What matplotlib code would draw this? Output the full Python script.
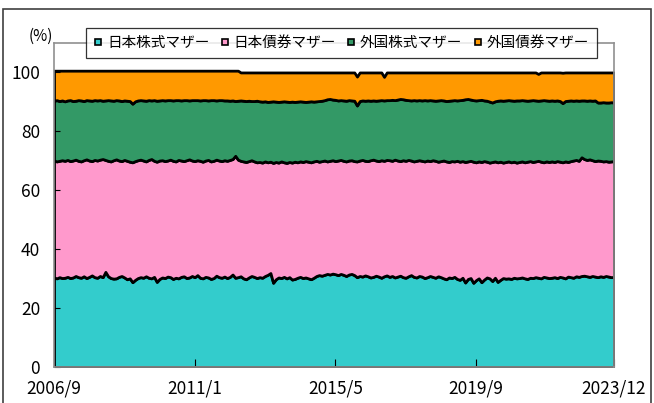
import matplotlib
matplotlib.use("Agg")
import matplotlib.pyplot as plt
from matplotlib.lines import Line2D
from matplotlib.patches import Rectangle
import numpy as np
import pandas as pd

plt.rcParams['font.family'] = ['Noto Sans CJK JP', 'DejaVu Sans']

# monthly shares (%), 2006/9 - 2023/12
months = pd.date_range('2006-09-01', '2023-12-01', freq='MS')

jp_stock = [
    30.4, 30.1, 30.5, 30.2,
    30.3, 30.6, 30.2, 30.4, 30.9, 30.5, 30.3, 30.8, 30.2, 30.6, 31.1, 30.5,
    30.3, 30.9, 30.5, 32.3, 30.8, 30.2, 30.0, 30.1, 30.6, 30.9, 30.4, 29.8,
    30.1, 28.8, 29.6, 30.2, 30.5, 30.3, 30.8, 30.3, 30.1, 30.6, 28.9, 29.9,
    30.4, 30.2, 30.7, 30.5, 29.9, 30.3, 30.1, 30.6, 30.8, 30.2, 30.4, 30.9,
    30.5, 31.2, 30.3, 30.1, 30.6, 30.4, 29.9, 30.2, 31.0, 30.5, 30.3, 30.7,
    30.2, 30.6, 31.4, 30.3, 30.5, 30.8, 30.1, 29.8, 30.4, 30.9, 30.6, 30.2,
    30.5, 30.3, 30.9, 31.3, 31.9, 28.6, 29.8, 30.4, 30.2, 30.6, 30.1, 30.5,
    29.7, 29.9, 30.3, 30.6, 30.2, 30.4, 30.1, 29.8, 30.3, 30.9, 31.2, 31.0,
    31.3, 31.6, 31.4, 31.7, 31.5, 31.2, 31.6, 31.3, 30.9, 31.4, 31.6, 31.2,
    30.5, 30.9, 30.7, 31.1, 30.8, 30.4, 30.6, 31.0, 30.7, 30.3, 30.8, 31.1,
    30.6, 30.9, 30.4, 30.7, 31.0, 30.5, 30.3, 30.8, 31.2, 30.6, 30.4, 30.9,
    30.7, 30.2, 30.5, 30.9, 30.6, 30.3, 30.8, 30.5, 30.1, 29.8, 30.4, 30.2,
    30.6, 29.9, 29.6, 30.3, 28.7, 29.9, 30.2, 28.6, 29.5, 30.1, 28.8, 29.7,
    30.4, 30.1, 29.2, 30.3, 28.9, 29.6, 30.2, 30.0, 30.1, 29.9, 30.3, 30.1,
    30.2, 30.4, 30.1, 29.9, 30.3, 30.2, 30.5, 30.3, 30.1, 30.6, 30.4, 30.2,
    30.3, 30.5, 30.2, 30.6, 30.4, 30.1, 30.7, 30.5, 30.3, 30.8, 30.6, 30.9,
    31.0, 30.8, 30.6, 30.9, 30.7, 30.5, 30.8, 30.6, 30.9, 30.7, 30.5, 30.6,
]

jp_bond = [
    39.7, 39.7, 39.5, 40.0,
    39.7, 39.7, 39.7, 39.7, 39.5, 39.5, 39.5, 39.4, 40.3, 39.5, 38.8, 39.8,
    39.8, 39.5, 40.1, 38.0, 39.2, 39.6, 40.2, 40.4, 39.5, 39.0, 39.9, 40.2,
    39.6, 40.7, 40.3, 40.0, 39.9, 39.8, 39.0, 40.0, 40.5, 39.4, 40.8, 40.2,
    39.8, 39.7, 39.4, 39.9, 40.1, 39.5, 40.2, 39.5, 39.1, 40.0, 40.1, 39.2,
    39.4, 39.0, 39.7, 39.6, 39.5, 39.9, 39.9, 39.8, 39.4, 39.6, 39.6, 39.5,
    39.8, 39.7, 39.2, 41.4, 39.9, 39.2, 39.7, 39.8, 39.5, 39.3, 39.2, 39.3,
    39.1, 39.1, 38.9, 38.2, 37.8, 40.7, 39.8, 39.0, 39.6, 38.9, 39.2, 39.1,
    39.7, 39.8, 39.2, 39.2, 39.4, 39.5, 39.6, 39.7, 39.5, 39.1, 38.5, 38.9,
    38.8, 38.2, 38.6, 38.5, 38.4, 38.9, 38.7, 38.7, 38.9, 38.7, 38.6, 38.7,
    39.3, 39.2, 39.6, 38.9, 39.1, 39.8, 39.8, 39.1, 39.2, 39.9, 39.2, 39.2,
    39.6, 39.1, 40.0, 39.4, 38.9, 39.7, 39.7, 39.5, 38.9, 39.2, 39.6, 39.3,
    39.3, 39.6, 39.6, 39.0, 39.6, 39.7, 38.9, 39.4, 40.0, 40.0, 39.2, 39.7,
    39.2, 40.1, 40.1, 39.6, 40.9, 39.9, 39.8, 41.1, 40.0, 39.7, 40.8, 40.2,
    39.3, 39.3, 40.4, 39.5, 40.6, 40.1, 39.2, 39.6, 39.7, 39.6, 39.4, 39.3,
    39.4, 39.4, 39.4, 39.8, 39.6, 39.4, 39.3, 39.7, 39.6, 38.9, 39.4, 39.4,
    39.5, 39.1, 39.7, 39.1, 39.1, 39.7, 38.9, 39.4, 39.8, 39.5, 39.4, 40.3,
    39.6, 39.5, 39.9, 39.3, 39.2, 39.6, 39.2, 39.2, 39.0, 39.0, 39.3, 39.3,
]

fg_stock = [
    20.3, 20.8, 20.3, 20.3,
    20.2, 20.2, 20.7, 20.2, 20.0, 20.6, 20.7, 20.1, 20.1, 20.4, 20.5, 20.3,
    20.4, 20.2, 19.8, 20.2, 20.6, 20.7, 20.2, 20.1, 20.4, 20.4, 20.2, 20.4,
    20.6, 19.9, 20.3, 20.3, 20.2, 20.4, 20.6, 20.3, 19.9, 20.6, 20.7, 20.4,
    20.4, 20.6, 20.5, 20.2, 20.5, 20.8, 20.3, 20.4, 20.7, 20.4, 20.0, 20.5,
    20.7, 20.4, 20.5, 20.9, 20.5, 20.2, 20.8, 20.6, 20.1, 20.5, 20.7, 20.3,
    20.5, 20.1, 19.9, 18.6, 20.0, 20.5, 20.6, 20.7, 20.5, 20.1, 20.5, 20.9,
    20.6, 20.7, 20.4, 20.5, 20.4, 20.9, 20.5, 20.6, 20.3, 20.7, 20.8, 20.4,
    20.7, 20.3, 20.6, 20.4, 20.5, 20.1, 20.4, 20.7, 20.3, 20.2, 20.6, 20.5,
    20.5, 21.1, 21.0, 20.6, 20.8, 20.4, 20.3, 20.5, 20.6, 20.5, 20.3, 20.5,
    19.0, 20.2, 20.2, 20.4, 20.6, 20.2, 20.1, 20.3, 20.6, 20.4, 20.5, 20.3,
    20.4, 20.7, 20.2, 20.7, 21.1, 20.7, 20.7, 20.3, 20.4, 20.8, 20.5, 20.4,
    20.5, 20.8, 20.4, 20.7, 20.3, 20.4, 20.8, 20.7, 20.4, 20.5, 20.8, 20.6,
    20.8, 20.5, 20.9, 20.8, 21.3, 21.2, 20.8, 20.9, 21.0, 20.8, 21.1, 20.6,
    20.7, 20.7, 20.2, 20.4, 20.9, 20.8, 21.0, 20.9, 20.8, 21.0, 20.7, 21.1,
    20.9, 20.8, 21.0, 20.7, 20.6, 21.0, 20.7, 20.4, 20.8, 21.1, 20.7, 20.8,
    20.7, 20.8, 20.6, 20.6, 20.1, 20.5, 20.8, 20.6, 20.3, 20.2, 20.4, 19.3,
    19.9, 20.1, 20.0, 20.2, 20.6, 19.7, 19.8, 20.1, 19.9, 20.1, 20.1, 19.9,
]

fg_bond = [
    10.2, 10.0, 10.3, 10.1,
    10.4, 10.1, 10.0, 10.3, 10.2, 10.0, 10.1, 10.3, 10.0, 10.1, 10.2, 10.0,
    10.1, 10.0, 10.2, 10.1, 10.0, 10.1, 10.2, 10.0, 10.1, 10.3, 10.1, 10.2,
    10.3, 11.2, 10.4, 10.1, 10.0, 10.1, 10.2, 10.0, 10.1, 10.0, 10.2, 10.1,
    10.0, 10.1, 10.0, 10.0, 10.1, 10.0, 10.0, 10.1, 10.0, 10.0, 10.1, 10.0,
    10.0, 10.0, 10.1, 10.0, 10.0, 10.1, 10.0, 10.0, 10.1, 10.0, 10.0, 10.1,
    10.1, 10.2, 10.1, 10.3, 10.2, 9.5, 9.6, 9.7, 9.6, 9.7, 9.7, 9.6,
    9.8, 9.9, 9.8, 10.0, 9.9, 9.8, 9.9, 10.0, 9.9, 9.8, 9.9, 10.0,
    9.9, 10.0, 9.9, 9.8, 9.9, 10.0, 9.9, 9.8, 9.9, 9.8, 9.7, 9.6,
    9.4, 9.1, 9.0, 9.2, 9.3, 9.5, 9.4, 9.5, 9.6, 9.4, 9.5, 9.6,
    9.8, 9.7, 9.5, 9.6, 9.5, 9.6, 9.5, 9.6, 9.5, 9.4, 8.0, 9.4,
    9.4, 9.3, 9.4, 9.2, 9.0, 9.1, 9.3, 9.4, 9.5, 9.4, 9.5, 9.4,
    9.5, 9.4, 9.5, 9.4, 9.5, 9.6, 9.5, 9.4, 9.5, 9.7, 9.6, 9.5,
    9.4, 9.5, 9.4, 9.3, 9.1, 9.0, 9.2, 9.4, 9.5, 9.4, 9.3, 9.5,
    9.6, 9.9, 10.2, 9.8, 9.6, 9.5, 9.6, 9.5, 9.4, 9.5, 9.6, 9.5,
    9.5, 9.4, 9.5, 9.6, 9.5, 9.4, 9.5, 9.1, 9.5, 9.4, 9.5, 9.6,
    9.5, 9.6, 9.5, 9.7, 10.3, 9.7, 9.6, 9.5, 9.6, 9.5, 9.6, 9.5,
    9.5, 9.6, 9.5, 9.6, 9.5, 10.2, 10.2, 10.1, 10.2, 10.2, 10.1, 10.2,
]

names = ['日本株式マザー', '日本債券マザー', '外国株式マザー', '外国債券マザー']
colors = ['#33CCCC', '#FF99CC', '#339966', '#FF9900']
tick_idx = [0, 52, 104, 156, 207]

fig = plt.figure(figsize=(6.54, 4.03), dpi=100)
ax = fig.add_axes([54/654, 1 - 367/403, 560/654, 324/403])

x = np.arange(len(months))
ax.stackplot(x, jp_stock, jp_bond, fg_stock, fg_bond, colors=colors,
             edgecolor='black', linewidth=2.0)

ax.set_xlim(0, len(months) - 1)
ax.set_ylim(0, 110)
ax.set_yticks([0, 20, 40, 60, 80, 100])
ax.set_xticks(tick_idx)
ax.set_xticklabels([f'{months[i].year}/{months[i].month}' for i in tick_idx])
ax.tick_params(axis='both', direction='in', labelsize=12.5, color='black', width=0.8)
ax.tick_params(axis='y', length=4, pad=10)
ax.tick_params(axis='x', length=6, pad=9)
for s in ax.spines.values():
    s.set_color('#909090')
    s.set_linewidth(1.2)

fig.text(41/654, 1 - 36/403, '(%)', fontsize=11, ha='center', va='center')

handles = [Line2D([], [], marker='s', linestyle='none', markersize=5,
                  markerfacecolor=c, markeredgecolor='black', markeredgewidth=1.2)
           for c in colors]
leg = fig.legend(handles, names, loc='upper left', ncol=4,
                 bbox_to_anchor=(86/654, 1 - 28/403), bbox_transform=fig.transFigure,
                 fontsize=10.5, frameon=True, fancybox=False, borderaxespad=0,
                 handlelength=0.6, handletextpad=0.3, columnspacing=0.75,
                 borderpad=0.55)
leg.get_frame().set_edgecolor('black')
leg.get_frame().set_linewidth(0.9)

# outer chart frame
fig.patches.append(Rectangle((3/654, -0.05), 648/654, 1.05 - 9.5/403,
                             transform=fig.transFigure, fill=False,
                             edgecolor='#404040', linewidth=1.2))

fig.savefig('out.png', dpi=100)
